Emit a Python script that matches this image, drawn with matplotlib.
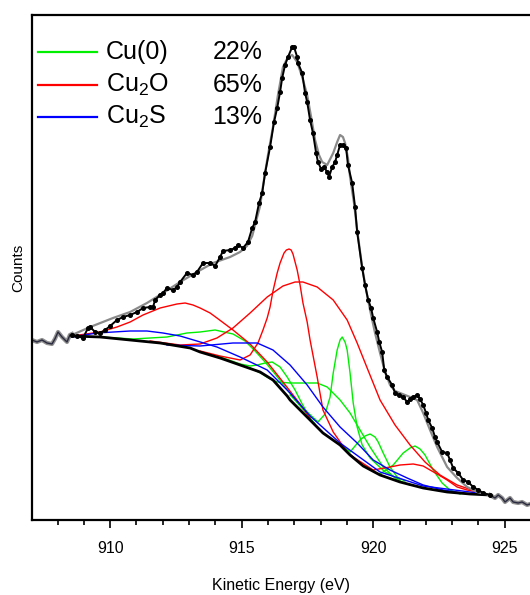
import matplotlib
matplotlib.use("Agg")
import matplotlib.pyplot as plt

plt.rcParams["font.family"] = ["Liberation Sans", "DejaVu Sans"]
plt.rcParams["mathtext.fontset"] = "custom"
plt.rcParams["mathtext.rm"] = "Liberation Sans"
plt.rcParams["mathtext.it"] = "Liberation Sans"

# 측정 데이터 (피팅 영역 밖)
pre_e = [907.03, 907.22, 907.41, 907.60, 907.79, 907.90, 908.02, 908.17, 908.36, 908.47, 908.55]
pre_c = [180, 178, 180, 177, 176, 181, 188, 183, 178, 185, 186]
post_e = [924.44, 924.63, 924.75, 924.90, 925.01, 925.20, 925.32, 925.51, 925.66, 925.85, 925.96]
post_c = [25, 22, 25, 22, 18, 22, 18, 17, 18, 15, 16]

# 측정 데이터 (점)
data_e = [908.55, 908.74, 908.97, 909.16, 909.24, 909.43, 909.62, 909.81, 910.00, 910.26,
          910.49, 910.76, 911.02, 911.25, 911.52, 911.63, 911.71, 911.90, 912.01, 912.16,
          912.39, 912.54, 912.66, 912.92, 913.15, 913.30, 913.53, 913.80, 913.99, 914.18,
          914.29, 914.56, 914.75, 914.86, 915.05, 915.24, 915.40, 915.51, 915.66, 915.78,
          915.89, 916.08, 916.23, 916.35, 916.46, 916.54, 916.65, 916.76, 916.92, 916.99,
          917.11, 917.14, 917.30, 917.41, 917.49, 917.60, 917.71, 917.83, 917.90, 918.02,
          918.13, 918.25, 918.32, 918.44, 918.55, 918.63, 918.74, 918.85, 918.97, 919.04,
          919.20, 919.31, 919.39, 919.58, 919.69, 919.81, 919.92, 920.00, 920.15, 920.23,
          920.34, 920.42, 920.53, 920.72, 920.83, 920.99, 921.14, 921.29, 921.40, 921.52,
          921.67, 921.78, 921.90, 922.01, 922.09, 922.24, 922.35, 922.43, 922.62, 922.81,
          922.92, 923.04, 923.23, 923.42, 923.61, 923.80, 923.99, 924.18, 924.44]
data_c = [185, 184, 182, 192, 193, 188, 187, 190, 194, 200,
          203, 205, 208, 212, 213, 213, 220, 225, 227, 232,
          230, 233, 238, 247, 245, 248, 257, 257, 254, 263,
          269, 270, 272, 275, 272, 278, 292, 298, 317, 327,
          347, 373, 398, 412, 428, 442, 455, 463, 473, 473,
          463, 457, 447, 427, 418, 400, 387, 367, 358, 351,
          353, 348, 343, 353, 358, 365, 375, 375, 372, 355,
          337, 313, 288, 252, 235, 220, 212, 202, 188, 178,
          168, 150, 143, 135, 127, 125, 123, 118, 121, 123,
          125, 121, 115, 107, 100, 92, 83, 78, 68, 67,
          60, 52, 47, 40, 38, 33, 30, 27, 25]

# 피팅 결과 (회색)
fit_e = [908.55, 909.24, 910.11, 910.76, 911.40, 912.01, 912.66, 913.30, 913.91, 914.56,
         914.94, 915.20, 915.40, 915.51, 915.70, 915.81, 916.00, 916.19, 916.38, 916.57,
         916.76, 916.92, 917.11, 917.30, 917.49, 917.64, 917.79, 917.94, 918.06, 918.25,
         918.48, 918.63, 918.74, 918.85, 918.93, 919.04, 919.12, 919.27, 919.39, 919.58,
         919.73, 919.88, 920.07, 920.26, 920.45, 920.64, 920.83, 921.02, 921.40, 921.67,
         921.90, 922.16, 922.43, 922.81, 923.19, 923.57, 923.95, 924.44]
fit_c = [185, 193, 202, 208, 217, 227, 238, 248, 257, 263,
         268, 274, 284, 295, 314, 334, 365, 393, 425, 453,
         463, 465, 458, 443, 425, 403, 380, 365, 358, 355,
         367, 378, 385, 383, 377, 362, 343, 317, 290, 253,
         230, 210, 187, 167, 148, 135, 129, 127, 123, 120,
         107, 90, 73, 53, 42, 33, 28, 25]

# 배경선
bg_e = [908.55, 909.62, 910.76, 911.90, 913.04, 913.42, 914.18, 914.94, 915.70, 916.19,
        916.46, 916.73, 916.84, 917.22, 917.60, 918.09, 918.74, 919.12, 919.62, 920.26,
        921.02, 921.90, 922.81, 923.68, 924.44]
bg_c = [184, 183, 180, 177, 172, 168, 162, 155, 148, 140,
        132, 124, 120, 110, 100, 87, 75, 65, 54, 45,
        38, 32, 28, 26, 25]

# Cu(0) 성분
g1_e = [908.55, 909.62, 910.87, 912.16, 912.92, 913.42, 913.99, 914.67, 915.13, 915.51,
        915.89, 916.27, 916.65, 917.03, 917.41, 917.79]
g1_c = [184, 183, 181, 183, 187, 188, 190, 186, 179, 169,
        158, 146, 133, 120, 108, 96]
g2_e = [914.18, 914.94, 915.32, 915.59, 915.89, 916.16, 916.46, 916.73, 917.03, 917.30, 917.60]
g2_c = [163, 156, 154, 155, 157, 158, 153, 143, 130, 116, 102]
g3_e = [915.32, 915.78, 916.08, 916.35, 916.84, 917.49, 917.87, 918.25, 918.74, 919.12,
        919.50, 919.88, 920.38, 920.91, 921.40]
g3_c = [152, 146, 141, 138, 137, 137, 137, 133, 120, 107,
        90, 73, 53, 40, 35]
g4_e = [916.84, 917.41, 917.90, 918.17, 918.36, 918.48, 918.63, 918.74, 918.82, 918.93,
        919.01, 919.12, 919.24, 919.39, 919.58, 919.88, 920.45, 921.02]
g4_c = [125, 110, 98, 106, 123, 147, 170, 180, 183, 178,
        170, 147, 117, 93, 75, 62, 48, 40]
g5_e = [918.74, 919.12, 919.50, 919.69, 919.88, 920.07, 920.19, 920.38, 920.64, 920.91, 921.21]
g5_c = [76, 68, 80, 84, 86, 83, 78, 67, 53, 43, 39]
g6_e = [920.26, 920.76, 921.14, 921.40, 921.59, 921.78, 921.97, 922.28, 922.62, 922.92, 923.30]
g6_c = [46, 55, 67, 72, 74, 71, 65, 50, 37, 30, 26]

# Cu2O 성분
r1_e = [908.55, 909.62, 910.26, 910.76, 911.25, 911.90, 912.54, 912.85, 913.15, 913.42,
        913.80, 914.06, 914.67, 915.32, 915.97, 916.57, 917.22, 917.60]
r1_c = [184, 188, 193, 198, 205, 212, 216, 217, 215, 212,
        207, 202, 190, 176, 158, 138, 116, 102]
r2_e = [913.42, 914.18, 914.94, 915.32, 915.62, 915.81, 915.97, 916.08, 916.19, 916.35,
        916.46, 916.61, 916.70, 916.80, 916.88, 916.95, 917.11, 917.22, 917.33, 917.49,
        917.60, 917.87, 918.09, 918.48, 919.01, 919.50]
r2_c = [169, 164, 160, 165, 177, 190, 202, 213, 229, 247,
        257, 267, 270, 271, 270, 266, 250, 235, 217, 198,
        180, 143, 110, 88, 68, 57]
r3_e = [911.52, 912.66, 913.42, 914.06, 914.67, 915.32, 915.97, 916.57, 917.03, 917.33,
        917.87, 918.48, 919.01, 919.39, 919.77, 920.26, 920.83, 921.40, 921.97, 922.54,
        923.19, 923.87, 924.44]
r3_c = [179, 175, 176, 182, 192, 207, 223, 234, 238, 238,
        233, 220, 200, 177, 152, 120, 95, 75, 58, 45,
        35, 29, 25]
r4_e = [919.12, 920.00, 920.64, 921.02, 921.52, 921.90, 922.16, 922.43, 922.81, 923.19, 923.57, 924.18]
r4_c = [65, 50, 53, 55, 56, 54, 50, 46, 40, 33, 30, 27]

# Cu2S 성분
b1_e = [908.55, 909.50, 910.76, 911.40, 912.01, 912.66, 913.30, 914.06, 914.94, 915.97,
        916.84, 917.60, 918.74, 920.26, 921.90, 923.68, 924.44]
b1_c = [183, 187, 189, 189, 187, 184, 179, 173, 163, 150,
        127, 104, 77, 48, 34, 28, 25]
b2_e = [912.16, 913.42, 914.67, 915.59, 916.19, 916.84, 917.49, 918.09, 918.74, 919.39,
        920.00, 920.64, 921.29, 921.90, 922.66, 923.68, 924.44]
b2_c = [175, 174, 177, 177, 170, 155, 135, 113, 93, 77,
        60, 50, 42, 35, 30, 26, 25]

names = ["Cu(0)", "Cu$_2$O", "Cu$_2$S"]
shares = ["22%", "65%", "13%"]
GREEN, RED, BLUE = "#00ee00", "#ff0000", "#0000ff"

fig = plt.figure(figsize=(5.3, 5.95), dpi=100)
ax = fig.add_axes([32 / 530, 75 / 595, 498 / 530, 505 / 595])

for e, c in [(g1_e, g1_c), (g2_e, g2_c), (g3_e, g3_c), (g4_e, g4_c), (g5_e, g5_c), (g6_e, g6_c)]:
    ax.plot(e, c, color=GREEN, lw=1.0)
for e, c in [(r1_e, r1_c), (r2_e, r2_c), (r3_e, r3_c), (r4_e, r4_c)]:
    ax.plot(e, c, color=RED, lw=1.0)
for e, c in [(b1_e, b1_c), (b2_e, b2_c)]:
    ax.plot(e, c, color=BLUE, lw=1.0)
ax.plot(bg_e, bg_c, color="black", lw=2.0)

for e, c in [(pre_e, pre_c), (post_e, post_c)]:
    ax.plot(e, c, color="#909090", lw=3.0)
    ax.plot(e, c, color="#2a2a40", lw=1.0)
ax.plot(fit_e, fit_c, color="#8a8a8a", lw=1.6)
ax.plot(data_e, data_c, color="black", lw=1.4, marker="o", ms=2.6)

# 범례
for i, col in enumerate([GREEN, RED, BLUE]):
    yy = 0.9267 - i * 0.0644
    ax.plot([0.012, 0.1305], [yy, yy], color=col, lw=1.6, transform=ax.transAxes)
    ax.text(0.1486, yy, names[i], transform=ax.transAxes, fontsize=18, va="center", ha="left")
    ax.text(0.362, yy, shares[i], transform=ax.transAxes, fontsize=18, va="center", ha="left")

ax.set_xlim(907.03, 925.96)
ax.set_ylim(0, 505)
ax.set_xticks([910, 915, 920, 925])
ax.set_xticks(range(908, 926), minor=True)
ax.set_yticks([])
ax.spines["right"].set_visible(False)
for s in ["left", "top", "bottom"]:
    ax.spines[s].set_linewidth(1.6)
ax.tick_params(axis="x", which="major", direction="out", length=6, width=1.2, labelsize=11.5, pad=9)
ax.tick_params(axis="x", which="minor", direction="out", length=3.5, width=1.2)
ax.set_xlabel("Kinetic Energy (eV)", fontsize=11.5, labelpad=16)
ax.set_ylabel("Counts", fontsize=11, labelpad=5)

fig.savefig("out.png", dpi=100)
